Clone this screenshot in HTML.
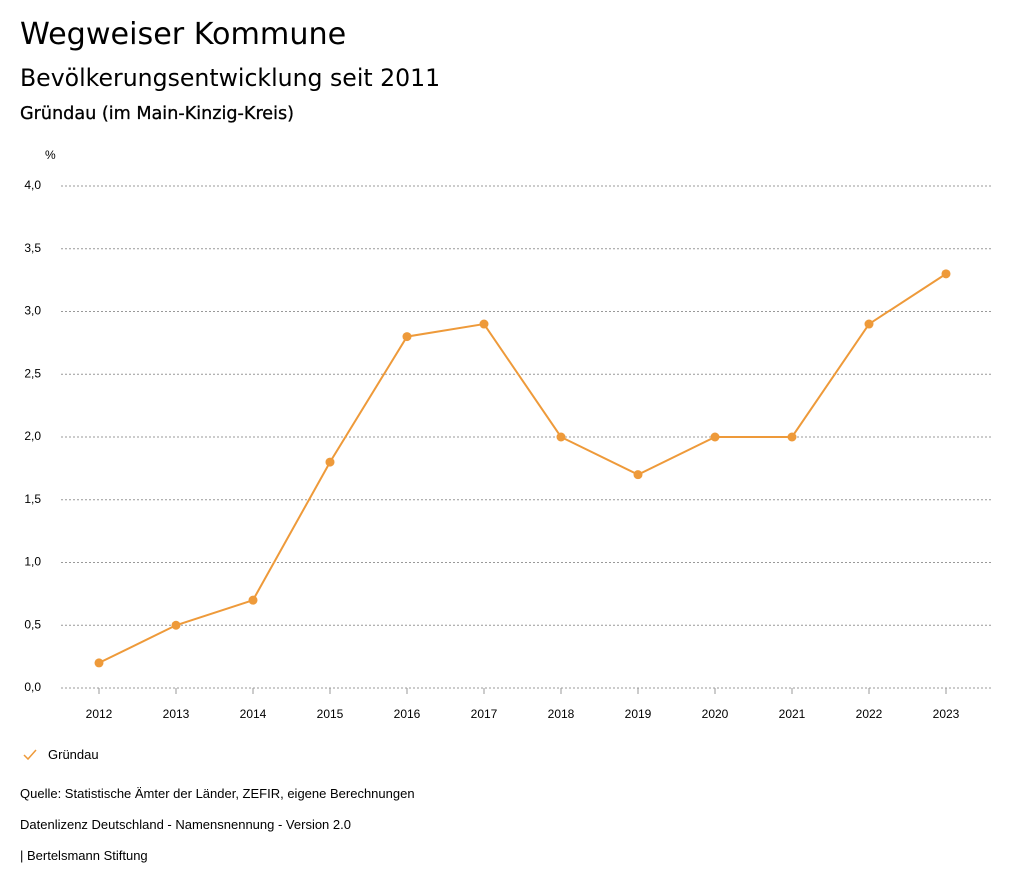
<!DOCTYPE html>
<html><head><meta charset="utf-8"><style>
body{margin:0;width:1024px;height:888px;background:#fff;font-family:"Liberation Sans",sans-serif;color:#000;position:relative;overflow:hidden}
.t{position:absolute;left:20px;white-space:nowrap}
.d{font-family:"DejaVu Sans",sans-serif}
</style></head><body>
<div class="t d" style="top:17px;font-size:30.2px">Wegweiser Kommune</div>
<div class="t d" style="top:64px;font-size:23.6px">Bevölkerungsentwicklung seit 2011</div>
<div class="t d" style="top:104px;font-size:17.6px;-webkit-text-stroke:0.3px #000">Gründau (im Main-Kinzig-Kreis)</div>
<svg id="chart" width="1024" height="888" style="position:absolute;left:0;top:0" font-family="Liberation Sans, sans-serif"></svg>
<div class="t" style="top:786px;font-size:13px">Quelle: Statistische Ämter der Länder, ZEFIR, eigene Berechnungen</div>
<div class="t" style="top:817px;font-size:13px">Datenlizenz Deutschland - Namensnennung - Version 2.0</div>
<div class="t" style="top:848px;font-size:13px">| Bertelsmann Stiftung</div>
<script>
const years=[2012,2013,2014,2015,2016,2017,2018,2019,2020,2021,2022,2023];
const values=[0.2,0.5,0.7,1.8,2.8,2.9,2.0,1.7,2.0,2.0,2.9,3.3];
const yTicks=[0,0.5,1,1.5,2,2.5,3,3.5,4];
const svg=document.getElementById('chart');
const NS='http://www.w3.org/2000/svg';
const x=i=>99+i*77;
const y=v=>688-v*125.5;
function mk(t,a){const e=document.createElementNS(NS,t);for(const k in a)e.setAttribute(k,a[k]);svg.appendChild(e);return e;}
yTicks.forEach(v=>{
 const g=mk('line',{x1:61,x2:991,y1:y(v),y2:y(v),stroke:'#999','stroke-dasharray':'2,2','stroke-width':1});
 
 
 const t=mk('text',{x:41,y:y(v)+3,'text-anchor':'end','font-size':12});
 t.textContent=v.toFixed(1).replace('.',',');
 
 
});
const u=mk('text',{x:45,y:159,'font-size':12});u.textContent='%';


years.forEach((yr,i)=>{
 const tk=mk('line',{x1:x(i),x2:x(i),y1:688,y2:694,stroke:'#999'});
 
 
 const t=mk('text',{x:x(i),y:718,'text-anchor':'middle','font-size':12});t.textContent=yr;
 
 
});
const p=mk('polyline',{points:values.map((v,i)=>x(i)+','+y(v)).join(' '),fill:'none',stroke:'#ee9a3a','stroke-width':2});


values.forEach((v,i)=>{
 const c=mk('circle',{cx:x(i),cy:y(v),r:4.5,fill:'#ee9a3a'});
 
 
});
const lg=mk('polyline',{points:'24,755 28,759 36,750',fill:'none',stroke:'#ee9a3a','stroke-width':1.5});


const lt=mk('text',{x:48,y:759,'font-size':13});lt.textContent='Gründau';


</script>
</body></html>
